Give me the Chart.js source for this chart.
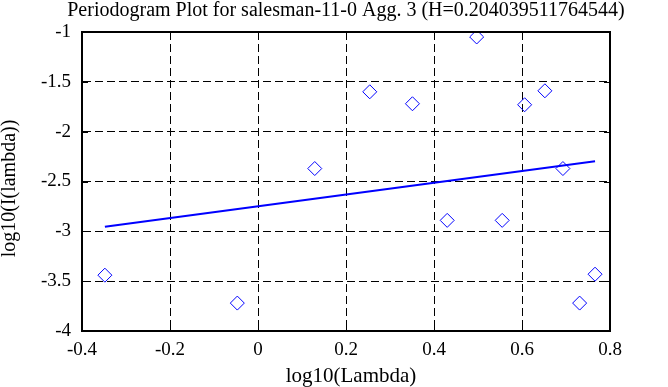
<!DOCTYPE html>
<html lang="en">
<head>
    <meta charset="UTF-8">
    <title>Periodogram Plot</title>
    <script src="https://cdn.jsdelivr.net/npm/chart.js"></script>
    <style>
        body { margin: 0; background: #fff; }
        #chartBox { width: 668px; height: 387px; }
    </style>
</head>
<body>

    <div id="chartBox"><canvas id="periodogram"></canvas></div>

    <script>
        // log10 of the frequencies and log10 of the periodogram values
        const lambdaLog = [-0.348, -0.047, 0.129, 0.254, 0.351, 0.430, 0.497, 0.555, 0.606, 0.652, 0.693, 0.731, 0.766];
        const periodLog = [-3.44, -3.72, -2.37, -1.60, -1.72, -2.89, -1.05, -2.89, -1.73, -1.59, -2.37, -3.72, -3.43];

        // least squares fit line end points
        const fitX = [-0.348, 0.766];
        const fitY = [-2.955, -2.296];

        const xTicks = [-0.4, -0.2, 0, 0.2, 0.4, 0.6, 0.8];
        const yTicks = [-4, -3.5, -3, -2.5, -2, -1.5, -1];

        const titleText = 'Periodogram Plot for salesman-11-0 Agg. 3 (H=0.204039511764544)';
        const xTitle = 'log10(Lambda)';
        const yTitle = 'log10(I(lambda))';
        const serif = 'Liberation Serif';

        // titles, full box round the plot + short inward tick marks
        const boxPlugin = {
            id: 'box',
            afterDraw(chart) {
                const { ctx, chartArea: a, scales } = chart;
                const midX = (a.left + a.right) / 2;
                ctx.save();
                ctx.fillStyle = '#000';
                ctx.textAlign = 'center';
                ctx.textBaseline = 'alphabetic';
                ctx.font = '20px "' + serif + '"';
                ctx.fillText(titleText, midX, 16);
                ctx.font = '21px "' + serif + '"';
                ctx.fillText(xTitle, midX + 5, 382);
                ctx.save();
                ctx.translate(15, (a.top + a.bottom) / 2 + 7);
                ctx.rotate(-Math.PI / 2);
                ctx.font = '20px "' + serif + '"';
                ctx.fillText(yTitle, 0, 0);
                ctx.restore();

                ctx.strokeStyle = '#000';
                ctx.lineWidth = 1;
                ctx.beginPath();
                xTicks.forEach(v => {
                    const px = Math.round(scales.x.getPixelForValue(v)) + 0.5;
                    ctx.moveTo(px, a.bottom); ctx.lineTo(px, a.bottom - 6);
                    ctx.moveTo(px, a.top); ctx.lineTo(px, a.top + 6);
                });
                yTicks.forEach(v => {
                    const py = Math.round(scales.y.getPixelForValue(v)) + 0.5;
                    ctx.moveTo(a.left, py); ctx.lineTo(a.left + 6, py);
                    ctx.moveTo(a.right, py); ctx.lineTo(a.right - 6, py);
                });
                ctx.stroke();
                ctx.lineWidth = 2;
                ctx.strokeRect(a.left, a.top, a.right - a.left, a.bottom - a.top);
                ctx.restore();
            }
        };

        const ctx = document.getElementById('periodogram').getContext('2d');
        new Chart(ctx, {
            type: 'scatter',
            data: {
                datasets: [
                    {
                        label: 'periodogram',
                        data: lambdaLog.map((x, i) => ({ x: x, y: periodLog[i] })),
                        pointStyle: 'rectRot',
                        pointRadius: 7,
                        pointBorderWidth: 1,
                        borderColor: '#0000ff',
                        backgroundColor: 'rgba(0,0,0,0)'
                    },
                    {
                        label: 'fit',
                        type: 'line',
                        data: fitX.map((x, i) => ({ x: x, y: fitY[i] })),
                        borderColor: '#0000ff',
                        borderWidth: 2,
                        pointRadius: 0,
                        fill: false
                    }
                ]
            },
            options: {
                responsive: true,
                maintainAspectRatio: false,
                animation: false,
                layout: { padding: { top: 32, right: 58, bottom: 0, left: 0 } },
                plugins: {
                    legend: { display: false },
                    tooltip: { enabled: false },
                    title: { display: false }
                },
                scales: {
                    x: {
                        type: 'linear',
                        min: -0.4,
                        max: 0.8,
                        afterBuildTicks: s => { s.ticks = xTicks.map(v => ({ value: v })); },
                        afterFit: s => { s.height = 56; },
                        grid: { color: '#000', lineWidth: 1, drawTicks: false },
                        border: { display: true, color: '#000', width: 2, dash: [8, 4] },
                        ticks: {
                            color: '#000',
                            padding: 8,
                            font: { family: serif, size: 19 },
                            callback: v => String(Math.round(v * 10) / 10)
                        }
                    },
                    y: {
                        type: 'linear',
                        min: -4,
                        max: -1,
                        afterBuildTicks: s => { s.ticks = yTicks.map(v => ({ value: v })); },
                        afterFit: s => { s.width = 82; },
                        grid: { color: '#000', lineWidth: 1, drawTicks: false },
                        border: { display: true, color: '#000', width: 2, dash: [8, 4] },
                        ticks: {
                            color: '#000',
                            padding: 11,
                            font: { family: serif, size: 19 },
                            callback: v => String(Math.round(v * 10) / 10)
                        }
                    }
                }
            },
            plugins: [boxPlugin]
        });
    </script>

</body>
</html>
